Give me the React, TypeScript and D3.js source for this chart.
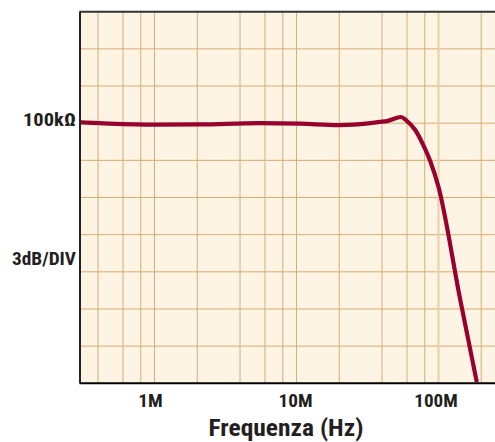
import React from "react";
import * as d3 from "d3";

// Frequency response samples (Hz, dB relative to 100kΩ)
const freqHz = [3e5, 4.1e5, 1.0e6, 2.1e6, 5.5e6, 1.06e7, 1.97e7, 3.88e7, 4.4e7, 5.46e7, 5.9e7, 6.86e7, 7.8e7, 8.74e7, 9.96e7, 1.42e8, 1.86e8];
const gainDb = [0.06, 0, -0.12, -0.1, 0, -0.04, -0.16, 0.1, 0.19, 0.5, 0.25, -0.55, -1.75, -3.05, -5.07, -14.2, -20.9];

const gridFreqs = [4e5, 6e5, 8e5, 1e6, 2e6, 4e6, 6e6, 8e6, 1e7, 2e7, 4e7, 6e7, 8e7, 1e8, 2e8];
const gridDb = [-18, -15, -12, -9, -6, -3, 0, 3, 6];
const xTickValues = [1e6, 1e7, 1e8];
const xTickLabels = ["1M", "10M", "100M"];
const xTickOffsets = [-4, -1, -2.5];
const xTickWidths = [24.5, 34, 43.5];

const W = 495;
const H = 442;
const left = 80.5;
const right = 495;
const top = 11.7;
const bottom = 383.3;

const FONT = "'Liberation Sans Narrow', 'Roboto Condensed', 'Arial Narrow', 'Liberation Sans', Arial, sans-serif";
const TEXT = "#231f20";

export default function App() {
  const x = d3.scaleLog().domain([3e5, 2.5e8]).range([80.3, 495]);
  const y = d3.scaleLinear().domain([-21, 9]).range([bottom, top]);

  const pts: [number, number][] = freqHz.map((f, i) => [x(f), y(gainDb[i])]);
  const line = d3.line().curve(d3.curveMonotoneX)(pts) || "";

  return (
    <svg width={W} height={H} style={{ position: "absolute", left: 0, top: 0 }}>
      <defs>
        <clipPath id="plot">
          <rect x={left} y={top} width={right - left} height={bottom - top} />
        </clipPath>
      </defs>
      <rect x={left} y={top} width={right - left} height={bottom - top} fill="#fdf4e3" />
      {gridDb.map((d) => (
        <line key={"h" + d} x1={left} x2={right} y1={y(d)} y2={y(d)} stroke="#d6ad74" strokeWidth={1} />
      ))}
      {gridFreqs.map((f) => (
        <line
          key={"v" + f}
          x1={x(f)}
          x2={x(f)}
          y1={top}
          y2={bottom}
          stroke={f === 1e8 ? "#e8d0a8" : "#d6ad74"}
          strokeWidth={f === 1e8 ? 2 : 1}
        />
      ))}
      <path d={line} fill="none" stroke="#98002e" strokeWidth={4.2} strokeLinejoin="round" clipPath="url(#plot)" />
      <line x1={left - 1} x2={right} y1={top} y2={top} stroke="#333" strokeWidth={2} />
      <line x1={left - 1} x2={right} y1={bottom} y2={bottom} stroke="#000" strokeWidth={2} />
      <line x1={left - 0.5} x2={left - 0.5} y1={top} y2={bottom} stroke="#222" strokeWidth={2} />
      {xTickValues.map((v, i) => (
        <text
          key={"t" + v}
          x={x(v) + xTickOffsets[i]}
          y={406.5}
          textAnchor="middle"
          fontFamily={FONT}
          fontWeight="bold"
          fontSize={17.5}
          fill={TEXT}
          textLength={xTickWidths[i]}
          lengthAdjust="spacingAndGlyphs"
        >
          {xTickLabels[i]}
        </text>
      ))}
      <text x={76} y={y(0) + 3} textAnchor="end" fontFamily={FONT} fontWeight="bold" fontSize={17.5} fill={TEXT} textLength={53} lengthAdjust="spacingAndGlyphs">
        100kΩ
      </text>
      <text x={76} y={264.5} textAnchor="end" fontFamily={FONT} fontWeight="bold" fontSize={17.5} fill={TEXT} textLength={64} lengthAdjust="spacingAndGlyphs">
        3dB/DIV
      </text>
      <text x={286} y={436} textAnchor="middle" fontFamily={FONT} fontWeight="bold" fontSize={23} fill={TEXT} textLength={155} lengthAdjust="spacingAndGlyphs">
        Frequenza (Hz)
      </text>
    </svg>
  );
}
